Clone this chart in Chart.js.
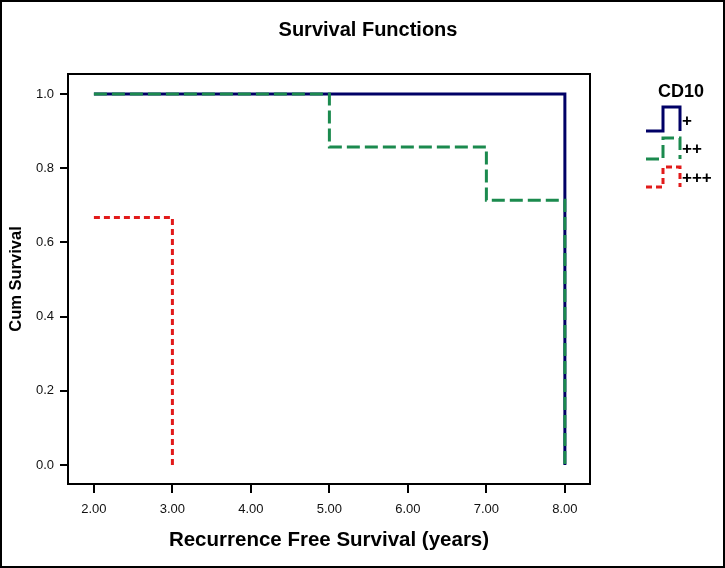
<!DOCTYPE html>
<html><head><meta charset="utf-8">
<script src="https://cdn.jsdelivr.net/npm/chart.js@4/dist/chart.umd.min.js"></script>
<style>html,body{margin:0;padding:0;background:#fff}canvas{display:block}</style>
</head><body>
<canvas id="c" width="725" height="568"></canvas>
<script>
// Data (Kaplan-Meier step points: time, cumulative survival)
const groups = ['+', '++', '+++'];
const timesPlus = [2, 8];
const survPlus = [1.0, 0.0];
const timesPlus2 = [2, 5, 7, 8];
const survPlus2 = [1.0, 0.857, 0.714, 0.0];
const timesPlus3 = [2, 3];
const survPlus3 = [0.667, 0.0];
const xTicks = [2, 3, 4, 5, 6, 7, 8];
const yTicks = [0, 0.2, 0.4, 0.6, 0.8, 1.0];

const colors = ['#000066', '#1b8a4e', '#e21a1a'];
const dashes = [[], [13, 5], [6, 4]];
const FONT = '"Liberation Sans", Arial, sans-serif';

const toPts = (t, s) => t.map((v, i) => ({x: v, y: s[i]}));

const frame = {
  id: 'frame',
  afterDatasetsDraw(chart) {
    const {ctx, chartArea: a} = chart;
    ctx.save();
    ctx.strokeStyle = '#000'; ctx.lineWidth = 2;
    ctx.strokeRect(a.left, a.top, a.right - a.left, a.bottom - a.top);
    ctx.strokeRect(1, 1, 723, 566);
    // title
    ctx.fillStyle = '#000';
    ctx.font = 'bold 20px ' + FONT;
    ctx.textAlign = 'center'; ctx.textBaseline = 'alphabetic';
    ctx.fillText('Survival Functions', 368, 36);
    // legend
    ctx.font = 'bold 18px ' + FONT;
    ctx.fillText('CD10', 681, 97);
    const rows = [[131, 107], [159, 138], [187, 167]];
    const labY = [121, 149, 178];
    rows.forEach((r, i) => {
      ctx.strokeStyle = colors[i]; ctx.lineWidth = 3;
      ctx.setLineDash(dashes[i]);
      ctx.beginPath();
      ctx.moveTo(646, r[0]); ctx.lineTo(663, r[0]); ctx.lineTo(663, r[1]);
      ctx.lineTo(680, r[1]); ctx.lineTo(680, r[0]);
      ctx.stroke();
      ctx.setLineDash([]);
      ctx.fillStyle = '#000';
      ctx.font = 'bold 17px ' + FONT;
      ctx.textAlign = 'left'; ctx.textBaseline = 'middle';
      ctx.fillText(groups[i], 682, labY[i]);
    });
    ctx.restore();
  }
};

new Chart(document.getElementById('c'), {
  type: 'line',
  data: {
    datasets: [
      {label: groups[0], data: toPts(timesPlus, survPlus), borderColor: colors[0], borderWidth: 3, borderDash: dashes[0], stepped: true, pointRadius: 0, order: 2},
      {label: groups[1], data: toPts(timesPlus2, survPlus2), borderColor: colors[1], borderWidth: 3, borderDash: dashes[1], stepped: true, pointRadius: 0, order: 0},
      {label: groups[2], data: toPts(timesPlus3, survPlus3), borderColor: colors[2], borderWidth: 3, borderDash: dashes[2], stepped: true, pointRadius: 0, order: 1}
    ]
  },
  options: {
    responsive: false,
    animation: false,
    layout: {padding: {left: 0, top: 74, right: 135, bottom: 0}},
    plugins: {legend: {display: false}, tooltip: {enabled: false}},
    scales: {
      x: {
        type: 'linear', min: 1.67, max: 8.32,
        afterBuildTicks: s => { s.ticks = xTicks.map(v => ({value: v})); },
        afterFit: s => { s.height = 84; },
        ticks: {includeBounds: false, color: '#111', padding: 9, font: {family: FONT, size: 13}, callback: v => Number(v).toFixed(2)},
        grid: {drawOnChartArea: false, drawTicks: true, tickLength: 9, color: '#000', lineWidth: 2},
        border: {display: true, color: '#000', width: 2},
        title: {display: true, text: 'Recurrence Free Survival (years)', color: '#000', font: {family: FONT, size: 20.5, weight: 'bold'}, padding: {top: 0, bottom: 15}}
      },
      y: {
        type: 'linear', min: -0.051, max: 1.054,
        afterBuildTicks: s => { s.ticks = yTicks.map(v => ({value: v})); },
        afterFit: s => { s.width = 68; },
        ticks: {includeBounds: false, color: '#111', padding: 6, font: {family: FONT, size: 13}, callback: v => Number(v).toFixed(1)},
        grid: {drawOnChartArea: false, drawTicks: true, tickLength: 8, color: '#000', lineWidth: 2},
        border: {display: true, color: '#000', width: 2},
        title: {display: true, text: 'Cum Survival', color: '#000', font: {family: FONT, size: 16.5, weight: 'bold'}, padding: {top: 7, bottom: 0}}
      }
    }
  },
  plugins: [frame]
});
</script>
</body></html>
